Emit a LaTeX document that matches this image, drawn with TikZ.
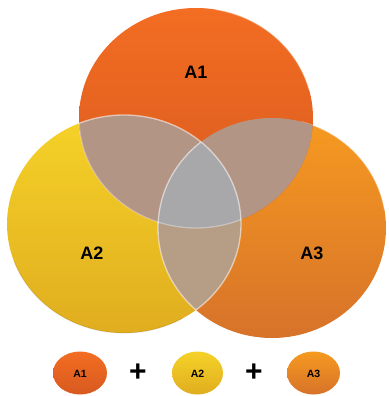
\documentclass[tikz,border=0pt]{standalone}
\usepackage{fontspec}
\setmainfont{Liberation Sans}
\definecolor{aonetop}{HTML}{F36D22}
\definecolor{aonebot}{HTML}{D85A20}
\definecolor{atwotop}{HTML}{F5D228}
\definecolor{atwobot}{HTML}{E0AD1F}
\definecolor{athreetop}{HTML}{F69A20}
\definecolor{athreebot}{HTML}{D7722A}
\definecolor{taupe}{HTML}{B39585}
\definecolor{lensb}{HTML}{B59D86}
\definecolor{triple}{HTML}{A8A8AB}
\newcommand{\pTop}{(196,118) ellipse [x radius=117pt, y radius=110pt]}
\newcommand{\pLeft}{(124,224) ellipse [x radius=117pt, y radius=109pt]}
\newcommand{\pRight}{(272,228) ellipse [x radius=114pt, y radius=110pt]}
\begin{document}
\begin{tikzpicture}[x=1pt,y=-1pt,
  lbl/.style={font=\bfseries\fontsize{18}{18}\selectfont, text=black},
  slbl/.style={font=\bfseries\fontsize{10.5}{10.5}\selectfont, text=black},
  plussign/.style={font=\bfseries\fontsize{30}{30}\selectfont, text=black},
  edgelight/.style={draw=white, draw opacity=0.55, line width=1.3pt},
  rim/.style={draw=white, draw opacity=0.35, line width=1.2pt}]
\useasboundingbox (0,0) rectangle (388,396);
% main circles
\shade[top color=atwotop, bottom color=atwobot] \pLeft;
\shade[top color=athreetop, bottom color=athreebot] \pRight;
\shade[top color=aonetop, bottom color=aonebot] \pTop;
% rim highlights
\draw[rim] (196,118) ++(15:117pt and 110pt) arc[start angle=15, end angle=80, x radius=117pt, y radius=110pt];
\draw[rim] (272,228) ++(10:114pt and 110pt) arc[start angle=10, end angle=75, x radius=114pt, y radius=110pt];
\draw[draw=black, draw opacity=0.08, line width=1.2pt] (124,224) ++(200:117pt and 109pt) arc[start angle=200, end angle=300, x radius=117pt, y radius=109pt];
% lower lens (A2 and A3)
\begin{scope}
  \clip \pLeft;
  \fill[lensb] \pRight;
\end{scope}
% overlaps with A1
\begin{scope}
  \clip \pTop;
  \fill[taupe] \pLeft \pRight;
\end{scope}
% triple overlap
\begin{scope}
  \clip \pTop;
  \clip \pLeft;
  \fill[triple] \pRight;
\end{scope}
% light edges
\begin{scope}
  \clip \pTop \pRight;
  \draw[edgelight] \pLeft;
\end{scope}
\begin{scope}
  \clip \pLeft;
  \draw[edgelight] \pRight;
\end{scope}
\begin{scope}
  \clip \pLeft;
  \draw[edgelight, draw opacity=0.35] \pTop;
\end{scope}
% labels
\node[lbl] (la1) at (196,72) {A1};
\node[lbl] (la2) at (92,253) {A2};
\node[lbl] (la3) at (312,253) {A3};
% legend
\shade[top color=aonetop, bottom color=aonebot] (80,373) ellipse [x radius=27pt, y radius=21.5pt];
\shade[top color=atwotop, bottom color=atwobot] (197.5,373) ellipse [x radius=25.5pt, y radius=21.5pt];
\shade[top color=athreetop, bottom color=athreebot] (313.5,373) ellipse [x radius=26.5pt, y radius=21.5pt];
\node[slbl] (sa1) at (80,374) {A1};
\node[slbl] (sa2) at (197.5,374) {A2};
\node[slbl] (sa3) at (313.5,374) {A3};
\node[plussign] (p1) at (138,373) {+};
\node[plussign] (p2) at (254,373) {+};
\end{tikzpicture}
\end{document}
